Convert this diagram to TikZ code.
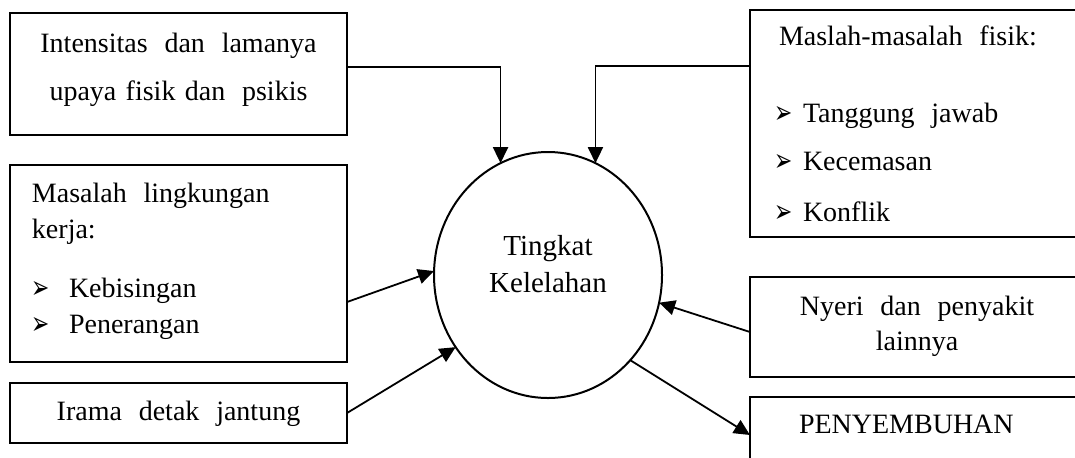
\documentclass[tikz,border=0pt]{standalone}
\usepackage{fontspec}
\usepackage{graphicx}
\setmainfont{Liberation Serif}
\newfontfamily\dingfont{DejaVu Sans}
\usetikzlibrary{
  arrows.meta, % for the Triangle arrow tip
  positioning, % for relative positioning of the boxes
  shapes.geometric % for the ellipse in the middle
}
\newcommand{\wgap}{\hspace{0.6em}} % wide word gap of the justified text
\newcommand{\itm}[1][18.5pt]{\makebox[#1][l]{\raisebox{-0.5pt}[0pt][0pt]{\scalebox{0.68}[1]{\dingfont\fontsize{16}{16}\selectfont ➢}}}} % arrow bullet
\tikzset{
  box/.style={ % style for the text boxes
    rectangle,draw,line width=1pt, % drawn as a thick rectangle
    inner sep=0pt,outer sep=0pt, % the size is set by text width, height and depth
    anchor=north west, % boxes are placed by their top left corner
    font=\fontsize{14}{18}\selectfont,
  },
  bubble/.style={ % style for the central ellipse
    ellipse,draw,line width=1pt,
    inner sep=0pt,outer sep=0pt,
    minimum width=114pt,minimum height=123pt,
    align=center,
    font=\fontsize{14.5}{18.5}\selectfont,
  },
  conn/.style={ % style for the connections
    -{Triangle[length=8pt,width=7.5pt]}, % filled arrow tip
    line width=0.9pt,
  },
}
\begin{document}
\begin{tikzpicture}[x=0.5pt,y=-0.5pt]
  \useasboundingbox (0,0) rectangle (1075,457);
  \clip (0,0) rectangle (1075,457);
  % left column
  \node[box, text width=168.5pt, align=center, text height=19.5pt, text depth=41.5pt] (intens) at (10,13)
    {Intensitas\wgap dan\wgap lamanya\\[6pt]upaya fisik dan\wgap psikis};
  \node[box, below=15pt of intens, text width=146.5pt, inner xsep=11pt, align=left, text height=18.5pt, text depth=80pt] (lingk)
    {Masalah\wgap lingkungan\\kerja:\\[11.5pt]\itm Kebisingan\\\itm Penerangan};
  \node[box, below=10.5pt of lingk, text width=168.5pt, align=center, text height=18.5pt, text depth=11.5pt] (irama)
    {Irama\wgap detak\wgap jantung};
  % middle
  \node[bubble, text height=30pt, text depth=13pt] (tingkat) at (548,275) {Tingkat\\Kelelahan};
  % right column
  \node[box, text width=146pt, inner xsep=12pt, align=left, text height=17.5pt, text depth=96pt] (fisik) at (750,10)
    {\hspace*{2.5pt}Maslah-masalah\wgap fisik:\\[20.5pt]\itm[14.5pt]Tanggung\wgap jawab\\[6pt]\itm[14.5pt]Kecemasan\\[7.5pt]\itm[14.5pt]Konflik};
  \node[box, below=20pt of fisik.south west, anchor=north west, text width=167pt, align=center, text height=19pt, text depth=31pt] (nyeri)
    {Nyeri\wgap dan\wgap penyakit\\[-0.5pt]lainnya};
  \node[box, below=10pt of nyeri.south west, anchor=north west, text width=121pt, inner xsep=24.5pt, align=left, text height=18pt, text depth=20pt] (sembuh)
    {PENYEMBUHAN};
  % connections
  \draw[conn] ([yshift=3.5pt]intens.east) -| (tingkat.113);
  \draw[conn] ([yshift=-28pt]fisik.north west) -| (tingkat.67);
  \draw[conn] ([yshift=-19.25pt]lingk.east) -- (tingkat.178);
  \draw[conn] (irama.east) -- (tingkat.218);
  \draw[conn] ([yshift=-2.5pt]nyeri.west) -- (tingkat.-14);
  \draw[conn] (tingkat.-46) -- (sembuh.west);
\end{tikzpicture}
\end{document}
